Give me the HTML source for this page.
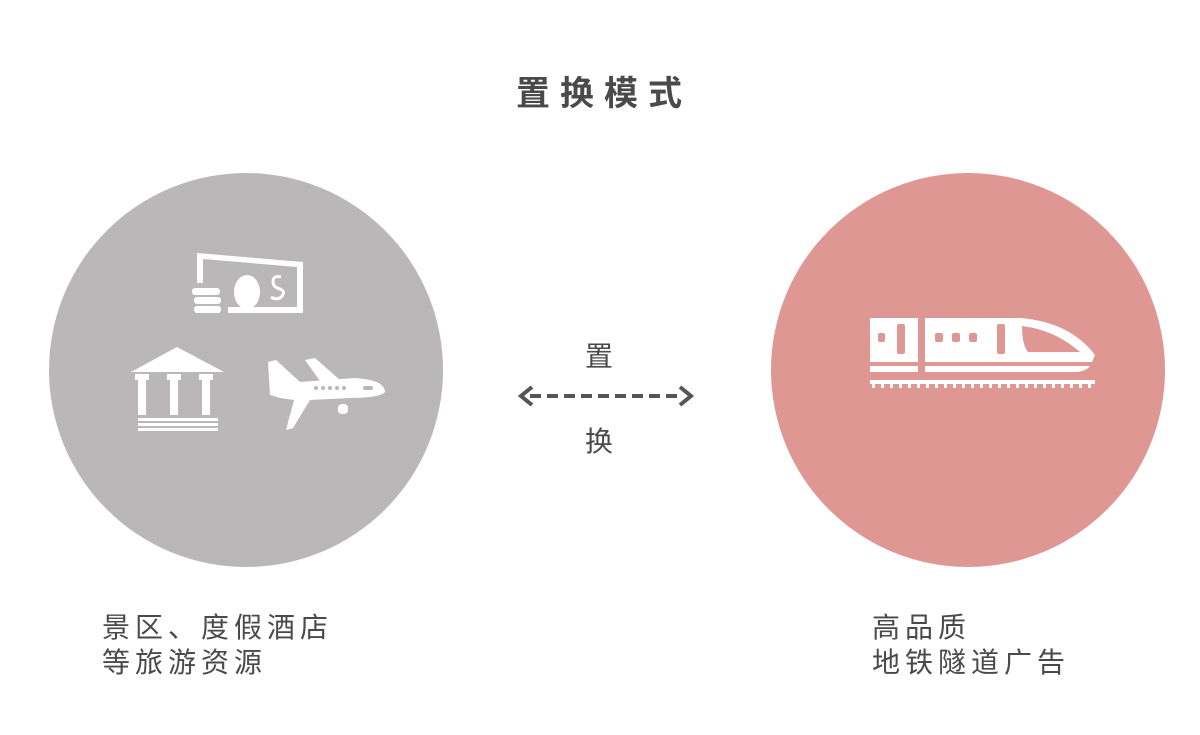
<!DOCTYPE html>
<html><head><meta charset="utf-8"><style>
body{margin:0;width:1200px;height:735px;background:#fff;overflow:hidden;position:relative;font-family:"Liberation Sans","Noto Sans CJK SC",sans-serif;color:#4a4a4a}
.t{position:absolute;white-space:nowrap}
</style></head><body>
<svg width="1200" height="735" style="position:absolute;left:0;top:0">
<circle cx="246" cy="370" r="197" fill="#bab7b8"/>
<circle cx="968" cy="370" r="197" fill="#df9794"/>
<g fill="#fff">
<path d="M197 253 L303 262 L303 313 L228 313 L228 307 L297 307 L297 267 L203 259 L203 283 L197 283 Z"/>
<ellipse cx="247" cy="292" rx="13" ry="17"/>
<path d="M281 277 q-8 -2 -8 5 q0 5 7 7 q7 3 0 9 q-5 2 -9 -1" stroke="#fff" stroke-width="3" fill="none"/>
<rect x="192" y="288" width="28" height="7" rx="3"/>
<rect x="194" y="297" width="27" height="7" rx="3"/>
<rect x="194" y="306" width="27" height="7" rx="3"/>
<path d="M131 372 L177 347 L224 372 Z"/>
<rect x="135" y="374" width="14" height="6"/><rect x="138" y="380" width="8" height="35"/>
<rect x="167" y="374" width="14" height="6"/><rect x="170" y="380" width="8" height="35"/>
<rect x="199" y="374" width="14" height="6"/><rect x="202" y="380" width="8" height="35"/>
<rect x="138" y="418" width="80" height="3"/><rect x="138" y="423" width="80" height="3"/><rect x="138" y="428" width="80" height="3"/>
<path d="M268 362 L276 360 L300 382 L355 378 Q385 380 385 392 Q380 398 350 398 L310 400 L293 428 L286 430 L294 400 L280 398 L270 395 Z"/>
<path d="M305 360 L315 358 L340 380 L320 381 Z"/>
<rect x="338" y="404" width="10" height="10" rx="4"/>
</g>
<g fill="#bab7b8"><circle cx="316" cy="388" r="2"/><circle cx="323" cy="388" r="2"/><circle cx="330" cy="388" r="2"/><circle cx="337" cy="388" r="2"/><circle cx="344" cy="388" r="2"/><rect x="363" y="386" width="10" height="4" rx="2"/></g>
<g fill="#fff">
<rect x="870" y="318" width="48" height="44"/>
<path d="M925 318 L1020 318 Q1070 322 1095 355 L1092 362 L925 362 Z"/>
<path d="M870 366 L918 366 L918 372 L870 372 Z M925 366 L1090 366 Q1085 372 1075 372 L925 372 Z"/>
<rect x="870" y="380" width="225" height="4"/>
</g>
<g fill="#df9794">
<rect x="878" y="333" width="7" height="9" rx="2"/><rect x="897" y="324" width="8" height="30" rx="2"/>
<rect x="935" y="333" width="8" height="9" rx="2"/><rect x="952" y="333" width="8" height="9" rx="2"/><rect x="969" y="333" width="8" height="9" rx="2"/>
<rect x="997" y="324" width="8" height="30" rx="2"/>
<path d="M1022 326 Q1055 330 1080 352 L1028 352 Q1022 345 1022 326 Z"/>
</g>
<g fill="#fff">
<path d="M890 372 q5 -6 10 0 Z"/><path d="M944 372 q5 -6 10 0 Z"/><path d="M1018 372 q5 -6 10 0 Z"/>
</g>
<g fill="#fff">
<rect x="872" y="384" width="3" height="4"/><rect x="881" y="384" width="3" height="4"/><rect x="890" y="384" width="3" height="4"/><rect x="899" y="384" width="3" height="4"/><rect x="908" y="384" width="3" height="4"/><rect x="917" y="384" width="3" height="4"/><rect x="926" y="384" width="3" height="4"/><rect x="935" y="384" width="3" height="4"/><rect x="944" y="384" width="3" height="4"/><rect x="953" y="384" width="3" height="4"/><rect x="962" y="384" width="3" height="4"/><rect x="971" y="384" width="3" height="4"/><rect x="980" y="384" width="3" height="4"/><rect x="989" y="384" width="3" height="4"/><rect x="998" y="384" width="3" height="4"/><rect x="1007" y="384" width="3" height="4"/><rect x="1016" y="384" width="3" height="4"/><rect x="1025" y="384" width="3" height="4"/><rect x="1034" y="384" width="3" height="4"/><rect x="1043" y="384" width="3" height="4"/><rect x="1052" y="384" width="3" height="4"/><rect x="1061" y="384" width="3" height="4"/><rect x="1070" y="384" width="3" height="4"/><rect x="1079" y="384" width="3" height="4"/><rect x="1088" y="384" width="3" height="4"/>
</g>
<line x1="530" y1="396" x2="682" y2="396" stroke="#555" stroke-width="4" stroke-dasharray="11,6"/>
<path d="M532 387 L521 396 L532 405" stroke="#555" stroke-width="4" fill="none"/>
<path d="M680 387 L691 396 L680 405" stroke="#555" stroke-width="4" fill="none"/>
</svg>
<div class="t" style="left:516px;top:74px;font-size:34px;letter-spacing:10px;line-height:40px;font-weight:bold">置换模式</div>
<div class="t" style="left:585px;top:340px;font-size:28px;line-height:34px">置</div>
<div class="t" style="left:585px;top:425px;font-size:28px;line-height:34px">换</div>
<div class="t" style="left:102px;top:610px;font-size:28px;letter-spacing:5px;line-height:35px">景区、度假酒店<br>等旅游资源</div>
<div class="t" style="left:872px;top:610px;font-size:28px;letter-spacing:5px;line-height:35px">高品质<br>地铁隧道广告</div>
</body></html>
